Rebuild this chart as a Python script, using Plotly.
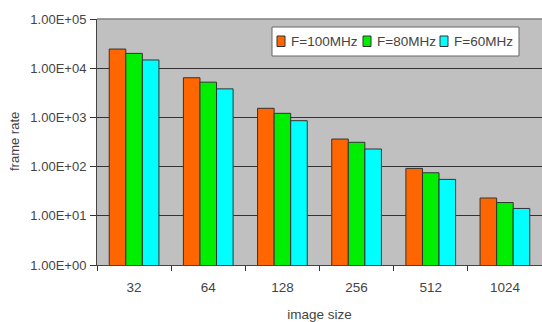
import plotly.graph_objects as go

categories = ["32", "64", "128", "256", "512", "1024"]
f100 = [24500, 6400, 1530, 363, 92, 23]
f80 = [20000, 5200, 1210, 312, 75, 18.6]
f60 = [14700, 3800, 857, 228, 55, 14.1]
series_names = ["F=100MHz", "F=80MHz", "F=60MHz"]
colors = ["#FF6600", "#00EE00", "#00FFFF"]
ytick_vals = [1, 10, 100, 1000, 10000, 100000]
ytick_text = ["1.00E+00", "1.00E+01", "1.00E+02", "1.00E+03", "1.00E+04", "1.00E+05"]

FONT = "Liberation Sans, Arial, sans-serif"

W, H = 542, 322
ML, MR, MT, MB = 97, 0, 19, 57
PW, PH = W - ML - MR, H - MT - MB


def px_x(x):
    return (x - ML) / PW


def px_y(y):
    return (H - MB - y) / PH


fig = go.Figure()
for name, vals, col in zip(series_names, [f100, f80, f60], colors):
    fig.add_trace(go.Bar(
        x=categories, y=vals, name=name,
        marker=dict(color=col, line=dict(color="#333333", width=1)),
        showlegend=False,
    ))

fig.update_layout(
    width=W, height=H,
    margin=dict(l=ML, r=MR, t=MT, b=MB, autoexpand=False),
    paper_bgcolor="white",
    plot_bgcolor="#C0C0C0",
    barmode="group",
    bargap=0.33,
    bargroupgap=0,
    font=dict(family=FONT, size=12.5, color="#444444"),
    showlegend=False,
    xaxis=dict(
        type="category",
        tickson="boundaries",
        ticks="outside", ticklen=5, tickcolor="#333333",
        ticklabelstandoff=10,
        tickfont=dict(size=13.5),
        showline=True, linecolor="#444444", linewidth=1,
        showgrid=False, automargin=False,
        title=dict(text="image size", font=dict(size=13.5), standoff=17),
    ),
    yaxis=dict(
        type="log",
        range=[0, 5],
        tickvals=ytick_vals, ticktext=ytick_text,
        ticks="outside", ticklen=6, tickcolor="#333333",
        ticklabelstandoff=1,
        tickfont=dict(size=13),
        showline=True, linecolor="#444444", linewidth=1,
        showgrid=True, gridcolor="#333333", gridwidth=1.3, automargin=False,
    ),
)
fig.add_shape(type="line", xref="paper", yref="paper", x0=0, x1=1, y0=1, y1=1,
              line=dict(color="#808080", width=1.5))

# y-axis title
fig.add_annotation(xref="paper", yref="paper", x=px_x(14), y=0.5,
                   xanchor="center", yanchor="middle", showarrow=False,
                   textangle=-90, text="frame rate",
                   font=dict(family=FONT, size=13, color="#444444"))

# legend box (drawn manually to match the compact original layout)
fig.add_shape(type="rect", xref="paper", yref="paper",
              x0=px_x(272), x1=px_x(519), y0=px_y(56), y1=px_y(27),
              fillcolor="white", line=dict(color="#666666", width=1), layer="above")
sq_x = [277, 363, 440]
tx_x = [289, 375, 452]
for name, col, sx, tx in zip(series_names, colors, sq_x, tx_x):
    fig.add_shape(type="rect", xref="paper", yref="paper",
                  x0=px_x(sx), x1=px_x(sx + 8), y0=px_y(46.5), y1=px_y(36),
                  fillcolor=col, line=dict(color="#333333", width=1), layer="above")
    fig.add_annotation(xref="paper", yref="paper", x=px_x(tx), y=px_y(41.5),
                       xanchor="left", yanchor="middle", showarrow=False,
                       text=name, font=dict(family=FONT, size=13.5, color="#444444"))

fig.write_html("out.html", config={"displayModeBar": False},
               post_script="document.body.style.margin='0';")
